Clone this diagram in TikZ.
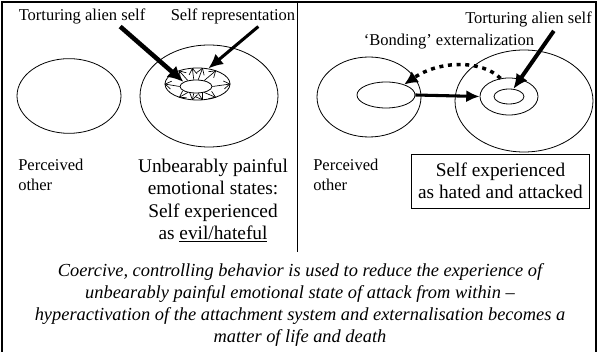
\documentclass[tikz,border=0pt]{standalone}
\usepackage{fontspec}
\setmainfont{Liberation Serif}
\usetikzlibrary{arrows.meta, shapes, positioning}

\begin{document}
\begin{tikzpicture}[x=0.75pt, y=-0.75pt,
    ell/.style={draw, ellipse, inner sep=0pt, line width=0.6pt},
    lbl/.style={inner sep=0pt, align=left, font=\fontsize{12.4}{15}\selectfont},
    bigtxt/.style={inner sep=0pt, align=center, font=\fontsize{14.5}{16.7}\selectfont},
    heavyarrow/.style={line width=3pt, -{Latex[length=11pt,width=10pt]}},
    ray/.style={line width=0.5pt, -{Straight Barb[length=4.5pt,width=6pt]}},
    dotarrow/.style={line width=2.6pt, dash pattern=on 3pt off 3.5pt, -{Latex[length=10pt,width=10pt]}}]

    \useasboundingbox (0,0) rectangle (600,352);

    % Frame and divider
    \draw[line width=1.5pt] (2,352) -- (2,2) -- (596,2) -- (596,352);
    \draw[line width=0.6pt] (297,2) -- (297,252);

    % Left panel: ellipses
    \node[ell, minimum width=78pt, minimum height=56pt] (otherL) at (69,96) {};
    \node[ell, minimum width=103.5pt, minimum height=76.5pt] (selfL) at (209,96) {};
    \node[ell, minimum width=48.75pt, minimum height=24pt] (ringL) at (197.5,84) {};
    \node[ell, minimum width=24pt, minimum height=9.75pt] (innerL) at (196,86.5) {};

    % Rays of attack from within
    \foreach \a in {0,36,...,324}
        \draw[ray] (innerL.\a) -- (ringL.\a);

    % Left panel: labels
    \node[lbl] (tortL) at (82,16) {Torturing alien self};
    \node[lbl] (selfRep) at (233,16) {Self representation};
    \node[lbl, anchor=west] (percL) at (18,175) {Perceived\\other};
    \node[bigtxt] (painL) at (213,200.5) {Unbearably painful\\emotional states:\\Self experienced\\as \underline{evil/hateful}};

    % Left panel: arrows
    \draw[heavyarrow, line width=3.4pt, -{Latex[length=12pt,width=11pt]}] ([xshift=-19pt, yshift=-2pt]tortL.south east) -- (innerL.160);
    \draw[heavyarrow, line width=2.3pt] ([xshift=19pt, yshift=-2pt]selfRep.south) -- (ringL.55);

    % Right panel: ellipses
    \node[ell, minimum width=78pt, minimum height=60pt] (otherR) at (369,97) {};
    \node[ell, minimum width=43.5pt, minimum height=19.5pt] (innerOther) at (386,95) {};
    \node[ell, minimum width=103.5pt, minimum height=76.5pt] (selfR) at (524,101) {};
    \node[ell, minimum width=43.5pt, minimum height=27.75pt] (ringR) at (509,96.5) {};
    \node[ell, minimum width=22.5pt, minimum height=11.25pt] (innerR) at (509,96.5) {};

    % Right panel: labels
    \node[lbl] (tortR) at (528.5,19) {Torturing alien self};
    \node[lbl] (bondR) at (449,42) {‘Bonding’ externalization};
    \node[lbl, anchor=west] (percR) at (313,175) {Perceived\\other};
    \node[bigtxt, draw, line width=0.6pt, minimum width=134pt, minimum height=40.5pt] (hatedR) at (500.5,181) {Self experienced\\as hated and attacked};

    % Right panel: arrows
    \draw[heavyarrow] ([xshift=19pt, yshift=-3pt]tortR.south) -- (innerR.60);
    \draw[heavyarrow, line width=2.3pt, -{Latex[length=10pt,width=9pt]}] (innerOther.east) -- (ringR.west);
    \draw[dotarrow] (ringR.115) .. controls (482,60) and (440,60) .. (innerOther.30);

    % Caption
    \node[inner sep=0pt, align=center, font=\fontsize{13.8}{16.5}\selectfont\itshape] (caption) at (300,305)
        {Coercive, controlling behavior is used to reduce the experience of\\
         unbearably painful emotional state of attack from within --\\
         hyperactivation of the attachment system and externalisation becomes a\\
         matter of life and death};

\end{tikzpicture}
\end{document}
